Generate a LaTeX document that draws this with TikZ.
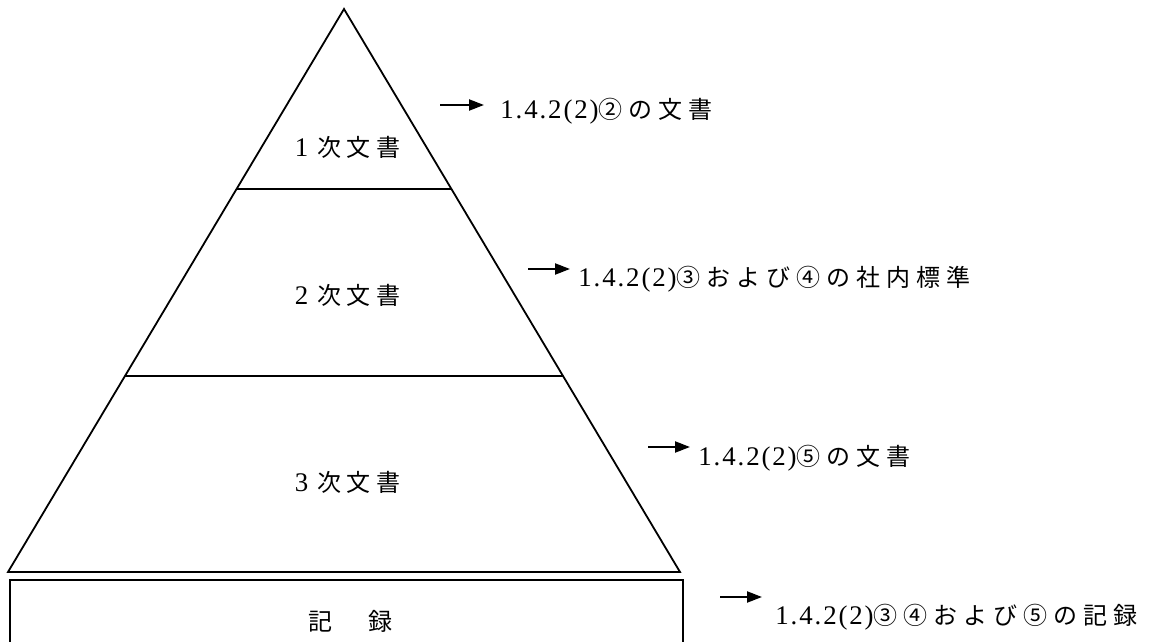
\documentclass[tikz,border=0pt]{standalone}
\usepackage{fontspec}
\setmainfont{Liberation Serif}[Scale=1.12, LetterSpace=7]
\newfontfamily\cjk[LetterSpace=25]{Noto Sans CJK JP}
\usetikzlibrary{positioning, arrows.meta, calc}

\begin{document}
\begin{tikzpicture}[
  x=0.5pt, y=-0.5pt,
  every node/.style={font=\fontsize{12}{14}\selectfont, inner sep=0pt},
  edge/.style={line width=0.9pt},
  lvl/.style={anchor=base},
  ref/.style={anchor=base west},
  arr/.style={-{Triangle[length=7.5pt, width=5.5pt]}, line width=1.1pt}
]
  \useasboundingbox (0,0) rectangle (1153,642);

  % pyramid
  \coordinate (top) at (344,9);
  \coordinate (bl)  at (8,572);
  \coordinate (br)  at (680,572);
  \draw[edge] (bl) -- (top) -- (br) -- cycle;
  \draw[edge] ($(top)!0.3197!(bl)$) -- ($(top)!0.3197!(br)$);
  \draw[edge] ($(top)!0.652!(bl)$) -- ($(top)!0.652!(br)$);

  \node[lvl] (doc1) at (348,157) {1 {\cjk 次文書}};
  \node[lvl] (doc2) at (348,305) {2 {\cjk 次文書}};
  \node[lvl] (doc3) at (348,491) {3 {\cjk 次文書}};

  % records
  \node[draw, edge, minimum width=336.5pt, minimum height=32pt] (rec) at (346.5,612) {};
  \node[lvl] (rectxt) at (350,630) {\cjk 記　録};

  % references
  \node[ref] (ref1) at (500,119) {1.4.2(2){\cjk ②の文書}};
  \node[ref] (ref2) at (578,286) {1.4.2(2){\cjk ③および④の社内標準}};
  \node[ref] (ref3) at (698,465) {1.4.2(2){\cjk ⑤の文書}};
  \node[ref] (ref4) at (775,624) {1.4.2(2){\cjk ③④および⑤の記録}};

  \coordinate (a1) at (440,105);
  \coordinate (a2) at (528,269);
  \coordinate (a3) at (648,447);
  \coordinate (a4) at (720,597);

  \draw[arr, shorten >=8pt]   (a1) -- (a1 -| ref1.west);
  \draw[arr, shorten >=4pt]   (a2) -- (a2 -| ref2.west);
  \draw[arr, shorten >=4pt]   (a3) -- (a3 -| ref3.west);
  \draw[arr, shorten >=6.5pt] (a4) -- (a4 -| ref4.west);
\end{tikzpicture}
\end{document}
